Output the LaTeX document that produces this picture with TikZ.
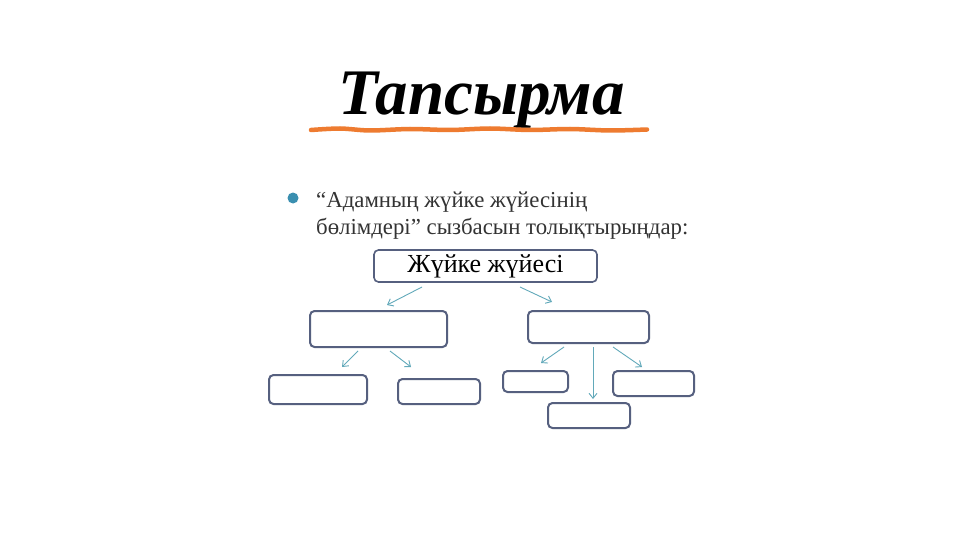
\documentclass[tikz,border=0pt]{standalone}
\usepackage{fontspec}
\setmainfont{Liberation Serif}
\usetikzlibrary{arrows.meta,calc}
\definecolor{boxline}{HTML}{56607F}
\definecolor{arrowc}{HTML}{62A9BA}
\definecolor{orangeline}{HTML}{EE7B30}
\definecolor{bulletc}{HTML}{3A8FB0}
\definecolor{txtgray}{HTML}{333333}
\tikzset{
  blank/.style={draw=boxline, line width=2pt, rounded corners=4.5pt, inner sep=0pt, outer sep=0pt},
  arr/.style={draw=arrowc, line width=0.9pt, -{Straight Barb[length=5pt,width=8pt]}},
  bodytext/.style={anchor=base west, inner sep=0pt, text=txtgray, font=\fontsize{22.8}{28}\selectfont}
}
\begin{document}
\begin{tikzpicture}[x=1pt,y=-1pt]
\useasboundingbox[fill=white] (0,0) rectangle (960,540);
% title
\node[anchor=base, inner sep=0pt, font=\fontsize{65}{72}\selectfont\bfseries\itshape] (title) at (481.5,115) {Тапсырма};
\draw[orangeline, line width=4.5pt, line cap=round] plot[smooth] coordinates {(311,130) (340,128.5) (370,130.5) (410,129) (450,130) (490,128.5) (530,130) (570,129) (610,130.5) (647,129.5)};
% bullet
\fill[bulletc] (293,198) circle (5.5);
\node[bodytext] (bl1) at (316,207) {“Адамның жүйке жүйесінің};
\node[bodytext] (bl2) at (316,234) {бөлімдері” сызбасын толықтырыңдар:};
% boxes
\node[blank, line width=1.6pt, minimum width=223pt, minimum height=32pt, font=\fontsize{26}{28}\selectfont] (top) at (485.5,266) {\raisebox{-2pt}{Жүйке жүйесі}};
\node[blank, minimum width=137pt, minimum height=36pt] (l2l) at (378.5,329) {};
\node[blank, minimum width=121pt, minimum height=32pt] (l2r) at (588.5,327) {};
\node[blank, minimum width=98pt, minimum height=29pt] (a) at (318,389.5) {};
\node[blank, minimum width=82pt, minimum height=25pt] (b) at (439,391.5) {};
\node[blank, minimum width=65pt, minimum height=21pt] (c) at (535.5,381.5) {};
\node[blank, minimum width=81pt, minimum height=25pt] (d) at (653.5,383.5) {};
\node[blank, minimum width=82pt, minimum height=25pt] (e) at (589,415.5) {};
% arrows
\draw[arr] ($(top.south)+(-63.5,5)$) -- ($(l2l.north)+(8.5,-6)$);
\draw[arr] ($(top.south)+(34.5,5)$) -- ($(l2r.north)+(-36.5,-9)$);
\draw[arr] ($(l2l.south)+(-20.5,4)$) -- ($(a.north)+(24,-8)$);
\draw[arr] ($(l2l.south)+(11.5,4)$) -- ($(b.north)+(-28,-12)$);
\draw[arr] ($(l2r.south)+(-24.5,4)$) -- ($(c.north)+(5.5,-8)$);
\draw[arr] ($(l2r.south)+(4.5,4)$) -- ($(e.north)+(4,-4)$);
\draw[arr] ($(l2r.south)+(24.5,4)$) -- ($(d.north)+(-11.5,-4)$);
\end{tikzpicture}
\end{document}
